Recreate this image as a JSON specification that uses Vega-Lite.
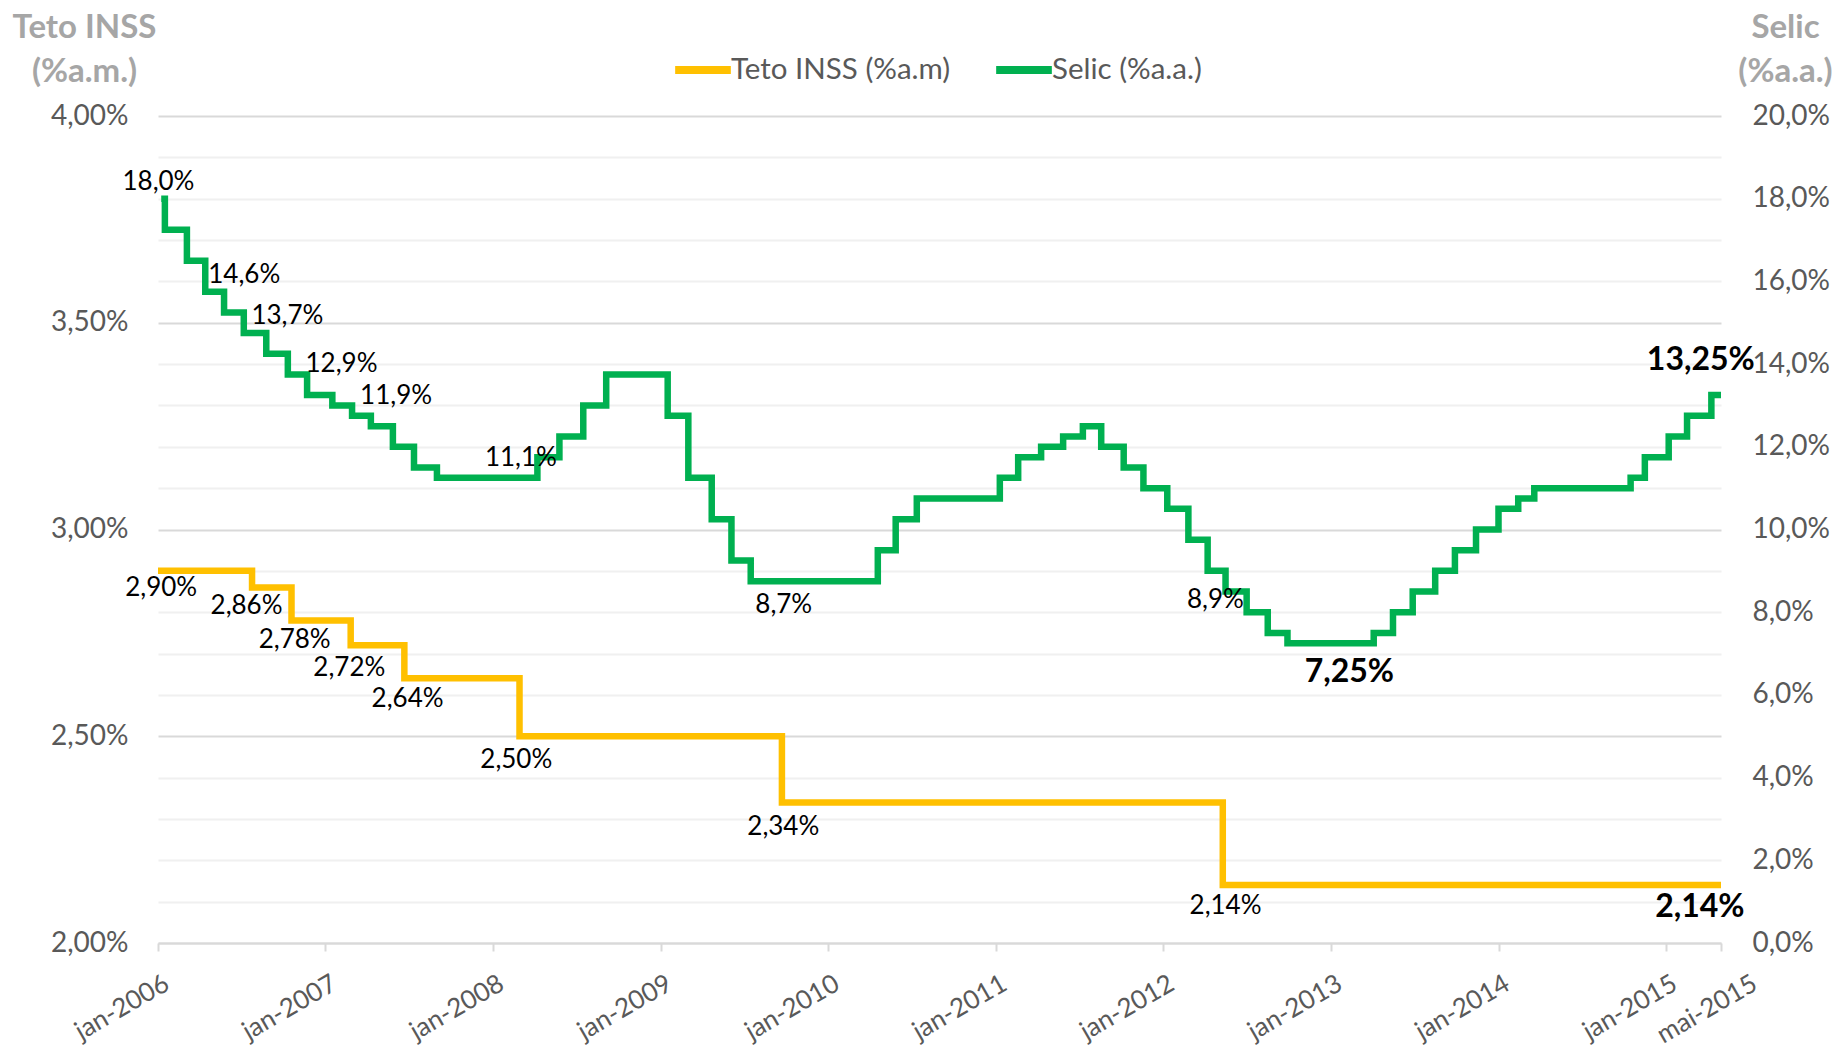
{
  "$schema": "https://vega.github.io/schema/vega-lite/v6.json",
  "width": 1563,
  "height": 827,
  "autosize": "none",
  "padding": {"left": 158, "top": 116, "right": 120, "bottom": 110},
  "background": "#ffffff",
  "config": {
    "view": {"stroke": null},
    "font": "Lato",
    "axis": {"labelFont": "Lato", "titleFont": "Lato"}
  },
  "datasets": {
    "teto": [
      {"dia": "2006-01-01", "taxa": 2.90},
      {"dia": "2006-07-25", "taxa": 2.86},
      {"dia": "2006-10-19", "taxa": 2.78},
      {"dia": "2007-02-25", "taxa": 2.72},
      {"dia": "2007-06-22", "taxa": 2.64},
      {"dia": "2008-02-28", "taxa": 2.50},
      {"dia": "2009-09-22", "taxa": 2.34},
      {"dia": "2012-05-10", "taxa": 2.14},
      {"dia": "2015-05-01", "taxa": 2.14}
    ],
    "selic": [
      {"dia": "2006-01-08", "taxa": 18.0},
      {"dia": "2006-01-16", "taxa": 17.25},
      {"dia": "2006-03-05", "taxa": 16.5},
      {"dia": "2006-04-14", "taxa": 15.75},
      {"dia": "2006-05-25", "taxa": 15.25},
      {"dia": "2006-07-07", "taxa": 14.75},
      {"dia": "2006-08-25", "taxa": 14.25},
      {"dia": "2006-10-11", "taxa": 13.75},
      {"dia": "2006-11-22", "taxa": 13.25},
      {"dia": "2007-01-16", "taxa": 13.0},
      {"dia": "2007-02-28", "taxa": 12.75},
      {"dia": "2007-04-10", "taxa": 12.5},
      {"dia": "2007-05-28", "taxa": 12.0},
      {"dia": "2007-07-13", "taxa": 11.5},
      {"dia": "2007-09-01", "taxa": 11.25},
      {"dia": "2008-04-07", "taxa": 11.75},
      {"dia": "2008-05-25", "taxa": 12.25},
      {"dia": "2008-07-16", "taxa": 13.0},
      {"dia": "2008-09-04", "taxa": 13.75},
      {"dia": "2009-01-16", "taxa": 12.75},
      {"dia": "2009-03-02", "taxa": 11.25},
      {"dia": "2009-04-22", "taxa": 10.25},
      {"dia": "2009-06-04", "taxa": 9.25},
      {"dia": "2009-07-16", "taxa": 8.75},
      {"dia": "2010-04-19", "taxa": 9.5},
      {"dia": "2010-05-28", "taxa": 10.25},
      {"dia": "2010-07-13", "taxa": 10.75},
      {"dia": "2011-01-10", "taxa": 11.25},
      {"dia": "2011-02-19", "taxa": 11.75},
      {"dia": "2011-04-10", "taxa": 12.0},
      {"dia": "2011-05-28", "taxa": 12.25},
      {"dia": "2011-07-10", "taxa": 12.5},
      {"dia": "2011-08-19", "taxa": 12.0},
      {"dia": "2011-10-07", "taxa": 11.5},
      {"dia": "2011-11-19", "taxa": 11.0},
      {"dia": "2012-01-10", "taxa": 10.5},
      {"dia": "2012-02-25", "taxa": 9.75},
      {"dia": "2012-04-07", "taxa": 9.0},
      {"dia": "2012-05-16", "taxa": 8.5},
      {"dia": "2012-07-01", "taxa": 8.0},
      {"dia": "2012-08-16", "taxa": 7.5},
      {"dia": "2012-09-28", "taxa": 7.25},
      {"dia": "2013-04-04", "taxa": 7.5},
      {"dia": "2013-05-16", "taxa": 8.0},
      {"dia": "2013-06-28", "taxa": 8.5},
      {"dia": "2013-08-16", "taxa": 9.0},
      {"dia": "2013-09-28", "taxa": 9.5},
      {"dia": "2013-11-13", "taxa": 10.0},
      {"dia": "2014-01-01", "taxa": 10.5},
      {"dia": "2014-02-13", "taxa": 10.75},
      {"dia": "2014-03-20", "taxa": 11.0},
      {"dia": "2014-10-16", "taxa": 11.25},
      {"dia": "2014-11-16", "taxa": 11.75},
      {"dia": "2015-01-07", "taxa": 12.25},
      {"dia": "2015-02-16", "taxa": 12.75},
      {"dia": "2015-04-10", "taxa": 13.25},
      {"dia": "2015-05-01", "taxa": 13.25}
    ],
    "tetoRotulos": [
      {"dia": "2006-01-08", "taxa": 2.859, "rotulo": "2,90%", "destaque": false},
      {"dia": "2006-07-13", "taxa": 2.815, "rotulo": "2,86%", "destaque": false},
      {"dia": "2006-10-26", "taxa": 2.733, "rotulo": "2,78%", "destaque": false},
      {"dia": "2007-02-22", "taxa": 2.665, "rotulo": "2,72%", "destaque": false},
      {"dia": "2007-06-29", "taxa": 2.590, "rotulo": "2,64%", "destaque": false},
      {"dia": "2008-02-21", "taxa": 2.443, "rotulo": "2,50%", "destaque": false},
      {"dia": "2009-09-25", "taxa": 2.281, "rotulo": "2,34%", "destaque": false},
      {"dia": "2012-05-16", "taxa": 2.089, "rotulo": "2,14%", "destaque": false},
      {"dia": "2015-03-16", "taxa": 2.087, "rotulo": "2,14%", "destaque": true}
    ],
    "selicRotulos": [
      {"dia": "2006-01-02", "taxa": 18.41, "rotulo": "18,0%", "destaque": false},
      {"dia": "2006-07-08", "taxa": 16.15, "rotulo": "14,6%", "destaque": false},
      {"dia": "2006-10-10", "taxa": 15.16, "rotulo": "13,7%", "destaque": false},
      {"dia": "2007-02-05", "taxa": 14.0, "rotulo": "12,9%", "destaque": false},
      {"dia": "2007-06-04", "taxa": 13.24, "rotulo": "11,9%", "destaque": false},
      {"dia": "2008-03-02", "taxa": 11.72, "rotulo": "11,1%", "destaque": false},
      {"dia": "2009-09-26", "taxa": 8.17, "rotulo": "8,7%", "destaque": false},
      {"dia": "2012-04-24", "taxa": 8.295, "rotulo": "8,9%", "destaque": false},
      {"dia": "2013-02-10", "taxa": 6.56, "rotulo": "7,25%", "destaque": true},
      {"dia": "2015-03-18", "taxa": 14.10, "rotulo": "13,25%", "destaque": true}
    ]
  },
  "layer": [
    {
      "encoding": {
        "x": {
          "field": "dia",
          "type": "temporal",
          "scale": {
            "type": "utc",
            "domain": [
              {"year": 2006, "month": 1, "date": 1, "utc": true},
              {"year": 2015, "month": 5, "date": 1, "utc": true}
            ]
          },
          "axis": {
            "title": null,
            "values": [
              {"year": 2006, "month": 1, "date": 1, "utc": true},
              {"year": 2007, "month": 1, "date": 1, "utc": true},
              {"year": 2008, "month": 1, "date": 1, "utc": true},
              {"year": 2009, "month": 1, "date": 1, "utc": true},
              {"year": 2010, "month": 1, "date": 1, "utc": true},
              {"year": 2011, "month": 1, "date": 1, "utc": true},
              {"year": 2012, "month": 1, "date": 1, "utc": true},
              {"year": 2013, "month": 1, "date": 1, "utc": true},
              {"year": 2014, "month": 1, "date": 1, "utc": true},
              {"year": 2015, "month": 1, "date": 1, "utc": true},
              {"year": 2015, "month": 5, "date": 1, "utc": true}
            ],
            "labelExpr": "utcFormat(datum.value, '%m') == '05' ? 'mai-' + utcFormat(datum.value, '%Y') : 'jan-' + utcFormat(datum.value, '%Y')",
            "labelAngle": -30,
            "labelAlign": "right",
            "labelBaseline": "top",
            "labelFontSize": 26,
            "labelColor": "#595959",
            "labelPadding": 19,
            "labelOffset": {"condition": {"test": "utcmonth(datum.value) == 4", "value": 27}, "value": 2},
            "labelFlush": false,
            "labelOverlap": false,
            "grid": false,
            "domainColor": "#D9D9D9",
            "domainWidth": 2,
            "tickColor": "#D9D9D9",
            "tickWidth": 2,
            "tickSize": 8
          }
        },
        "y": {
          "field": "taxa",
          "type": "quantitative",
          "scale": {"domain": [2, 4], "nice": false, "zero": false},
          "axis": {
            "orient": "left",
            "values": [2.0, 2.1, 2.2, 2.3, 2.4, 2.5, 2.6, 2.7, 2.8, 2.9, 3.0, 3.1, 3.2, 3.3, 3.4, 3.5, 3.6, 3.7, 3.8, 3.9, 4.0],
            "labelExpr": "abs(datum.value * 2 - round(datum.value * 2)) < 0.01 ? replace(format(datum.value, '.2f'), '.', ',') + '%' : ''",
            "labelOverlap": false,
            "labelFontSize": 28,
            "labelColor": "#595959",
            "labelPadding": 30,
            "ticks": false,
            "domain": false,
            "grid": true,
            "gridWidth": 2,
            "gridColor": {"condition": {"test": "abs(datum.value * 2 - round(datum.value * 2)) < 0.01", "value": "#D9D9D9"}, "value": "#F0F0F0"},
            "title": ["Teto INSS", "(%a.m.)"],
            "titleAngle": 0,
            "titleAlign": "center",
            "titleBaseline": "alphabetic",
            "titleX": -74,
            "titleY": -79,
            "titleFontSize": 33,
            "titleFontWeight": "bold",
            "titleColor": "#A6A6A6",
            "titleLineHeight": 44
          }
        }
      },
      "layer": [
        {
          "data": {"name": "teto"},
          "mark": {"type": "line", "interpolate": "step-after", "strokeWidth": 6.5},
          "encoding": {
            "color": {
              "datum": "Teto INSS (%a.m)",
              "type": "nominal",
              "scale": {"domain": ["Teto INSS (%a.m)", "Selic (%a.a.)"], "range": ["#FFC000", "#00B050"]},
              "legend": {
                "orient": "none",
                "legendX": 513,
                "legendY": -78,
                "direction": "horizontal",
                "title": null,
                "symbolType": "stroke",
                "symbolSize": 3100,
                "symbolStrokeWidth": 8,
                "labelFontSize": 29.5,
                "labelColor": "#595959",
                "labelFont": "Lato",
                "labelLimit": 500,
                "labelOffset": -4,
                "columnPadding": 29
              }
            }
          }
        },
        {
          "data": {"name": "tetoRotulos"},
          "transform": [{"filter": "!datum.destaque"}],
          "mark": {"type": "text", "align": "center", "baseline": "middle", "fontSize": 26, "color": "#000000", "font": "Lato"},
          "encoding": {"text": {"field": "rotulo"}}
        },
        {
          "data": {"name": "tetoRotulos"},
          "transform": [{"filter": "datum.destaque"}],
          "mark": {"type": "text", "align": "center", "baseline": "middle", "fontSize": 32, "fontWeight": "bold", "color": "#000000", "font": "Lato"},
          "encoding": {"text": {"field": "rotulo"}}
        }
      ]
    },
    {
      "encoding": {
        "x": {"field": "dia", "type": "temporal"},
        "y": {
          "field": "taxa",
          "type": "quantitative",
          "scale": {"domain": [0, 20], "nice": false},
          "axis": {
            "orient": "right",
            "values": [0, 2, 4, 6, 8, 10, 12, 14, 16, 18, 20],
            "labelExpr": "replace(format(datum.value, '.1f'), '.', ',') + '%'",
            "labelOverlap": false,
            "labelFontSize": 28,
            "labelColor": "#595959",
            "labelPadding": 31,
            "labelAlign": "left",
            "ticks": false,
            "domain": false,
            "grid": false,
            "title": ["Selic", "(%a.a.)"],
            "titleAngle": 0,
            "titleAlign": "center",
            "titleBaseline": "alphabetic",
            "titleX": 64,
            "titleY": -79,
            "titleFontSize": 33,
            "titleFontWeight": "bold",
            "titleColor": "#A6A6A6",
            "titleLineHeight": 44
          }
        }
      },
      "layer": [
        {
          "data": {"name": "selic"},
          "mark": {"type": "line", "interpolate": "step-after", "strokeWidth": 6.5},
          "encoding": {
            "color": {"datum": "Selic (%a.a.)", "type": "nominal"}
          }
        },
        {
          "data": {"name": "selicRotulos"},
          "transform": [{"filter": "!datum.destaque"}],
          "mark": {"type": "text", "align": "center", "baseline": "middle", "fontSize": 26, "color": "#000000", "font": "Lato"},
          "encoding": {"text": {"field": "rotulo"}}
        },
        {
          "data": {"name": "selicRotulos"},
          "transform": [{"filter": "datum.destaque"}],
          "mark": {"type": "text", "align": "center", "baseline": "middle", "fontSize": 32, "fontWeight": "bold", "color": "#000000", "font": "Lato"},
          "encoding": {"text": {"field": "rotulo"}}
        }
      ]
    }
  ],
  "resolve": {"scale": {"y": "independent"}}
}
